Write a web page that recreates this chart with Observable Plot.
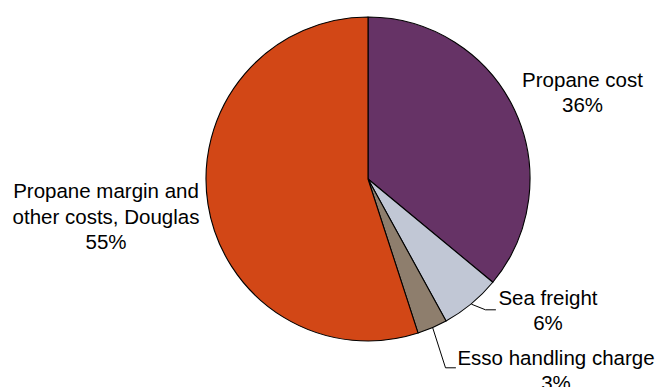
<!DOCTYPE html>
<html>
<head>
<meta charset="utf-8">
<script src="https://cdn.jsdelivr.net/npm/d3@7"></script>
<script src="https://cdn.jsdelivr.net/npm/@observablehq/plot@0.6"></script>
<style>
  html, body { margin: 0; padding: 0; background: #fff; }
  #chart svg { display: block; background: #fff; }
</style>
</head>
<body>
<div id="chart"></div>
<script>
// Cost build-up of propane delivered to Douglas (share of final price, %)
const categories = [
  "Propane cost",
  "Sea freight",
  "Esso handling charge",
  "Propane margin and other costs, Douglas"
];
const shares = [36, 6, 3, 55];
const labelLines = [
  ["Propane cost"],
  ["Sea freight"],
  ["Esso handling charge"],
  ["Propane margin and", "other costs, Douglas"]
];
const colors = ["#663366", "#c1c7d5", "#8e7e6d", "#d24716"];

// Layout
const W = 659, H = 387;
const cx = 368, cy = 179, R = 162;
const fontSize = 20.5;
// label block centres, and leader-line elbows for the thin slices
const labelPos = [[582, 91], [547.5, 309], [555.5, 369], [105.5, 215]];
const leaderElbow = [null, [[485, 309.3], [495, 309.3]], [[445, 367.3], [455, 367.3]], null];

const data = categories.map((c, i) => ({
  category: c, share: shares[i], color: colors[i],
  text: [...labelLines[i], `${shares[i]}%`].join("\n"),
  lx: labelPos[i][0], ly: labelPos[i][1]
}));

const arcs = d3.pie().sort(null).value(d => d.share)(data);

// leader lines from slice mid-angle on the rim to the label
const leaders = [];
arcs.forEach((a, i) => {
  if (!leaderElbow[i]) return;
  const mid = (a.startAngle + a.endAngle) / 2;
  leaders.push({k: i, x: cx + R * Math.sin(mid), y: cy - R * Math.cos(mid)});
  leaderElbow[i].forEach(([x, y]) => leaders.push({k: i, x, y}));
});

function pieMark(index, scales) {
  const ox = scales.x(cx), oy = scales.y(cy);
  const r = scales.x(cx + R) - ox;
  const arc = d3.arc().innerRadius(0).outerRadius(r);
  const g = d3.create("svg:g").attr("transform", `translate(${ox},${oy})`);
  g.selectAll("path").data(arcs).join("path")
    .attr("d", arc)
    .attr("fill", d => d.data.color)
    .attr("stroke", "#000")
    .attr("stroke-width", 1.1)
    .attr("stroke-linejoin", "round");
  return g.node();
}

const chart = Plot.plot({
  width: W,
  height: H,
  margin: 0,
  x: {domain: [0, W], range: [0, W], axis: null},
  y: {domain: [0, H], range: [0, H], axis: null},
  style: {fontFamily: "'Liberation Sans', Arial, sans-serif", background: "#fff"},
  marks: [
    pieMark,
    Plot.line(leaders, {x: "x", y: "y", z: "k", stroke: "#000", strokeWidth: 1}),
    Plot.text(data, {
      x: "lx", y: "ly", text: "text",
      textAnchor: "middle", lineAnchor: "middle",
      fontSize, lineHeight: 1.23, fill: "#000"
    })
  ]
});

document.getElementById("chart").append(chart);
</script>
</body>
</html>
